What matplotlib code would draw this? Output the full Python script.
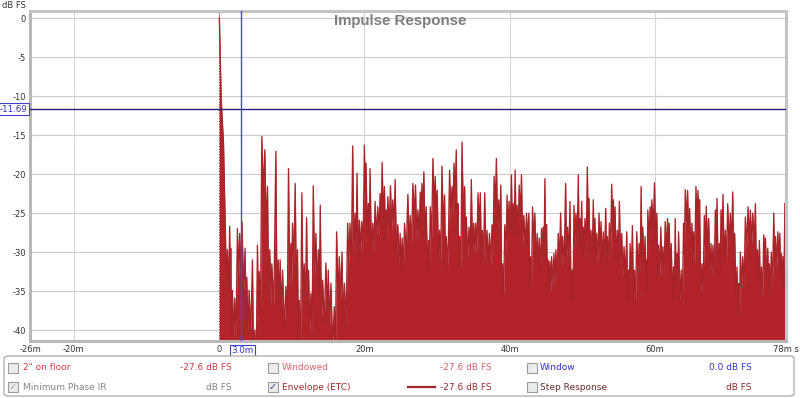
import matplotlib.pyplot as plt
import matplotlib.transforms as mtransforms
from matplotlib.patches import FancyBboxPatch, Rectangle
from matplotlib.lines import Line2D

# ETC envelope spikes (time in ms, level in dB FS)
peak_ms = [
    0.05, 0.30, 0.62, 0.92, 1.15, 1.47, 1.61, 1.84, 2.16, 2.53,
    2.85, 3.17, 3.59, 3.82, 4.14, 4.60, 4.92, 5.29, 5.52, 5.89,
    6.30, 6.67, 6.99, 7.26, 7.82, 8.14, 8.41, 8.74, 9.20, 9.56,
    9.89, 10.11, 10.48, 10.80, 11.03, 11.40, 11.72, 12.05, 12.32, 12.64,
    12.97, 13.33, 13.66, 13.93, 14.25, 14.71, 15.03, 15.40, 15.86, 16.18,
    16.55, 16.92, 17.24, 17.70, 18.02, 18.39, 18.71, 18.99,
    19.31, 19.63, 20.00, 20.23, 20.55, 20.78, 21.15, 21.47, 21.84, 22.16,
    22.44, 22.76, 22.99, 23.22, 23.59, 23.91, 24.23, 24.60, 24.92, 25.20,
    25.52, 25.98, 26.30, 26.67, 27.03, 27.36, 27.68, 27.91, 28.18, 28.51,
    28.83, 29.06, 29.43, 29.75, 30.02, 30.34, 30.67, 31.03, 31.26, 31.72,
    32.05, 32.32, 32.64, 32.87, 33.10, 33.43, 33.79, 34.02, 34.39, 34.71,
    35.03, 35.31, 35.63, 35.95, 36.23, 36.55, 36.87, 37.20, 37.56, 37.84,
    38.16, 38.48, 38.76,
    39.01, 39.31, 39.63, 39.91, 40.23, 40.46, 40.74, 41.01, 41.29, 41.61,
    41.93, 42.30, 42.62, 42.85, 43.13, 43.45, 43.77, 44.05, 44.37, 44.60,
    44.83, 45.06, 45.29, 45.52, 45.75, 46.07, 46.34, 46.67, 46.99, 47.26,
    47.68, 47.95, 48.28, 48.60, 48.83, 49.10, 49.43, 49.66, 49.89, 50.11,
    50.34, 50.67, 50.90, 51.17, 51.49, 51.72, 51.95, 52.28, 52.55, 52.87,
    53.20, 53.43, 53.70, 54.02, 54.25, 54.48, 54.80, 55.08, 55.40, 55.72,
    56.09, 56.32, 56.55, 56.87, 57.15, 57.47, 57.79, 58.07, 58.30, 58.62,
    58.85,
    58.99, 59.31, 59.54, 59.91, 60.23, 60.46, 60.78, 61.06, 61.38, 61.70,
    61.93, 62.21, 62.53, 62.76, 62.99, 63.22, 63.59, 63.91, 64.14, 64.46,
    64.74, 65.06, 65.29, 65.61, 65.89, 66.11, 66.44, 66.76, 67.03, 67.36,
    67.68, 67.95, 68.28, 68.51, 68.83, 69.06, 69.33, 69.66, 69.98, 70.34,
    70.67, 70.94, 71.26, 71.49, 71.72, 72.05, 72.41, 72.78, 73.10, 73.43,
    73.79, 74.07, 74.34, 74.62, 74.94, 75.17, 75.49, 75.72, 75.98, 76.32,
    76.55, 76.87, 77.15, 77.38, 77.61, 77.84,
]
peak_db = [
    0.0, -10.5, -16.1, -29.3, -29.7, -26.7, -29.5, -34.9, -35.9, -27.0,
    -27.6, -26.1, -29.5, -33.2, -34.9, -31.0, -40.0, -29.1, -32.5, -15.2,
    -16.9, -21.6, -29.7, -31.5, -17.1, -31.0, -31.0, -32.3, -34.4, -19.3,
    -28.9, -26.3, -21.2, -29.7, -36.2, -22.4, -31.5, -25.6, -32.3, -35.3,
    -21.5, -27.6, -29.7, -24.0, -33.6, -31.4, -32.3, -34.0, -37.0, -27.4,
    -30.6, -30.0, -34.0, -26.3, -26.3, -16.4, -25.0, -19.9,
    -25.9, -26.1, -16.3, -18.6, -23.8, -19.3, -26.3, -23.5, -24.2, -22.5,
    -18.5, -21.6, -24.6, -22.9, -21.5, -23.3, -20.7, -26.5, -27.6, -28.2,
    -26.3, -22.6, -25.3, -21.2, -21.4, -24.6, -22.3, -21.2, -19.7, -24.2,
    -28.5, -24.2, -18.0, -20.3, -22.1, -27.2, -19.0, -22.7, -28.0, -19.5,
    -21.6, -18.6, -16.9, -23.8, -28.0, -15.9, -21.6, -25.5, -26.8, -20.7,
    -26.3, -26.3, -22.4, -22.4, -27.2, -22.4, -27.2, -27.6, -26.5, -20.3,
    -18.0, -23.3, -21.4,
    -31.5, -26.5, -22.7, -23.5, -20.1, -23.8, -19.5, -24.0, -21.4, -20.1,
    -25.3, -25.0, -25.0, -30.6, -24.2, -25.0, -27.6, -28.2, -27.0, -26.8,
    -20.6, -26.5, -31.0, -31.2, -30.6, -30.2, -29.7, -27.6, -25.0, -28.0,
    -21.2, -26.8, -23.5, -32.3, -24.0, -25.0, -20.1, -25.7, -23.5, -26.8,
    -25.7, -19.1, -23.1, -27.2, -23.3, -25.7, -27.6, -25.0, -26.1, -27.4,
    -24.4, -28.0, -26.3, -21.3, -23.3, -24.2, -27.2, -23.5, -27.6, -29.3,
    -27.4, -32.3, -28.9, -26.6, -32.3, -27.4, -28.9, -21.6, -26.8, -28.0,
    -31.0,
    -24.6, -24.2, -23.3, -21.1, -25.0, -29.1, -26.8, -29.3, -26.1, -25.7,
    -26.3, -28.9, -31.9, -25.7, -30.2, -27.4, -32.3, -26.3, -22.0, -22.1,
    -24.4, -26.3, -27.4, -21.6, -22.1, -23.3, -31.5, -25.3, -24.1, -25.7,
    -28.9, -29.1, -24.6, -23.1, -28.9, -24.6, -22.6, -27.2, -23.8, -25.0,
    -22.3, -27.6, -31.9, -34.0, -30.0, -30.6, -25.5, -24.2, -24.6, -25.0,
    -23.8, -29.7, -28.5, -31.9, -27.8, -28.2, -29.5, -31.5, -30.0, -25.0,
    -28.0, -27.4, -27.6, -30.2, -30.6, -23.8,
]
# how far the envelope dips below the lower neighbouring spike, per time band
band_start_ms = [0.9, 19.0]
band_dip_db = [5.5, 4.0]
floor_db = -45

y_ticks = [0, -5, -10, -15, -20, -25, -30, -35, -40]
x_grid = [-20, 0, 20, 40, 60]
x_ticks = [-26, -20, 0, 20, 40, 60, 78]
x_labels = ['-26m', '-20m', '0', '20m', '40m', '60m', '78m s']
cursor_ms = 3.0
cursor_db = -11.69

W, H = 800, 398
ETC_RED = '#b3242a'


def fx(x):
    return x / W


def fy(y):
    return 1 - y / H


def dip_at(t):
    dip = None
    for start, d in zip(band_start_ms, band_dip_db):
        if t >= start:
            dip = d
    return dip


def etc_trace():
    xs, ys = [], []
    for i, (t, db) in enumerate(zip(peak_ms, peak_db)):
        xs.append(t)
        ys.append(db)
        if i + 1 < len(peak_ms):
            t2, db2 = peak_ms[i + 1], peak_db[i + 1]
            dip = dip_at(t)
            if dip is not None:
                xs.append((t + t2) / 2)
                ys.append(max(min(db, db2) - dip, floor_db))
    return xs, ys


def checkbox(x, y, checked=False, check_color='#9a9a9a'):
    fig.patches.append(Rectangle((fx(x), fy(y + 10)), 10 / W, 10 / H,
                                 transform=fig.transFigure, facecolor='#ececec',
                                 edgecolor='#9c9c9c', lw=0.8))
    if checked:
        fig.text(fx(x + 5), fy(y + 5), '\u2713', ha='center', va='center',
                 fontsize=7, color=check_color)


fig = plt.figure(figsize=(8, 3.98), dpi=100)
ax = fig.add_axes([fx(30), fy(341), fx(786) - fx(30), fy(11) - fy(341)])

ax.set_xlim(-26, 78)
ax.set_ylim(-41.4, 0.9)

for yv in y_ticks:
    ax.axhline(yv, color='#cbcbcb', lw=0.8, zorder=0)
for xv in x_grid:
    ax.axvline(xv, color='#d6d6d6', lw=0.8, zorder=0)

ax.axvline(0, color=ETC_RED, lw=0.8, ls=(0, (1, 1.5)), zorder=1)
tx, ty = etc_trace()
ax.fill_between(tx, ty, floor_db, color=ETC_RED, lw=0, zorder=2)
ax.plot(tx, ty, color='#a82429', lw=0.95, zorder=2)

# cursors
ax.axhline(cursor_db, color='#23237a', lw=1.0, zorder=3)
ax.axvline(cursor_ms, color='#4646dc', lw=1.0, zorder=3)

ax.set_yticks(y_ticks)
ax.set_yticklabels([str(v) for v in y_ticks])
ax.set_xticks(x_ticks)
ax.set_xticklabels(x_labels)
ax.tick_params(length=0, labelsize=6, colors='#333333', pad=3)

for name, sp in ax.spines.items():
    sp.set_color('#b8b8b8' if name in ('left', 'bottom') else '#c4c4c4')
    sp.set_linewidth(2.2)

box = dict(boxstyle='square,pad=0.15', facecolor='white', edgecolor='#4040c8', lw=0.8)
ax.text(-0.003, cursor_db, '-11.69', fontsize=6.3, color='#3434c0', ha='right', va='center',
        transform=mtransforms.blended_transform_factory(ax.transAxes, ax.transData),
        bbox=box, clip_on=False, zorder=5)
ax.text(cursor_ms + 0.2, -0.03, '3.0m', fontsize=6.3, color='#3434c0', ha='center', va='center',
        transform=mtransforms.blended_transform_factory(ax.transData, ax.transAxes),
        bbox=box, clip_on=False, zorder=5)

fig.text(fx(2), fy(5), 'dB FS', fontsize=6, color='#333333', va='center')
fig.text(fx(400), fy(21), 'Impulse Response', fontsize=10.8, fontweight='bold',
         family='Liberation Sans', color='#7d7d7d', ha='center', va='center')

# legend panel
fig.patches.append(FancyBboxPatch((fx(4), fy(396)), fx(794) - fx(4), fy(356) - fy(396),
                                  boxstyle='round,pad=0,rounding_size=0.006',
                                  transform=fig.transFigure, facecolor='white',
                                  edgecolor='#a8a8a8', lw=0.9))
r1, r2 = 368, 387
fs = 6.5
checkbox(8, r1 - 5)
fig.text(fx(23), fy(r1), '2" on floor', fontsize=fs, color='#d43c48', va='center')
fig.text(fx(232), fy(r1), '-27.6 dB FS', fontsize=fs, color='#d43c48', va='center', ha='right')
checkbox(8, r2 - 5, checked=True, check_color='#a8a8a8')
fig.text(fx(23), fy(r2), 'Minimum Phase IR', fontsize=fs, color='#858585', va='center')
fig.text(fx(232), fy(r2), 'dB FS', fontsize=fs, color='#858585', va='center', ha='right')

checkbox(268, r1 - 5)
fig.text(fx(282), fy(r1), 'Windowed', fontsize=fs, color='#d8606e', va='center')
fig.text(fx(492), fy(r1), '-27.6 dB FS', fontsize=fs, color='#d8606e', va='center', ha='right')
checkbox(268, r2 - 5, checked=True, check_color='#3a3a9a')
fig.text(fx(282), fy(r2), 'Envelope (ETC)', fontsize=fs, color='#a0282c', va='center')
fig.lines.append(Line2D([fx(408), fx(435)], [fy(r2), fy(r2)], transform=fig.transFigure,
                        color='#a0282c', lw=1.6))
fig.text(fx(492), fy(r2), '-27.6 dB FS', fontsize=fs, color='#a0282c', va='center', ha='right')

checkbox(527, r1 - 5)
fig.text(fx(540), fy(r1), 'Window', fontsize=fs, color='#3232c0', va='center')
fig.text(fx(752), fy(r1), '0.0 dB FS', fontsize=fs, color='#3232c0', va='center', ha='right')
checkbox(527, r2 - 5)
fig.text(fx(540), fy(r2), 'Step Response', fontsize=fs, color='#6a2c2c', va='center')
fig.text(fx(752), fy(r2), 'dB FS', fontsize=fs, color='#8b2a2a', va='center', ha='right')

fig.savefig('out.png', dpi=100)
